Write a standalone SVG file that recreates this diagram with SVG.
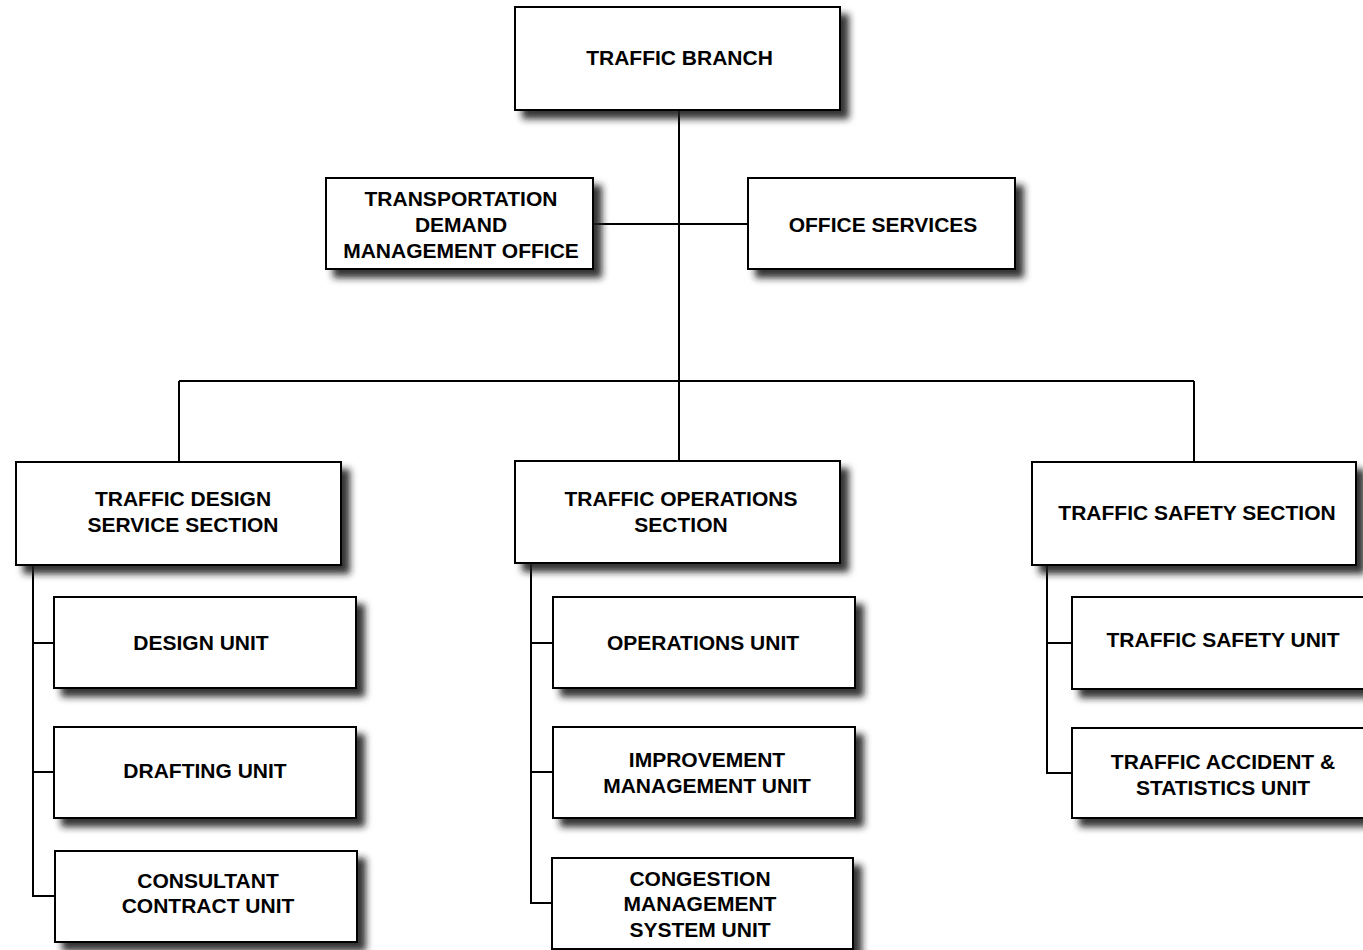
<svg xmlns="http://www.w3.org/2000/svg" width="1363" height="950" viewBox="0 0 1363 950">
<style>
.box{fill:#fff;stroke:#000;stroke-width:2;filter:url(#sh)}
.t{font-family:"Liberation Sans",Arial,sans-serif;font-weight:bold;font-size:21px;fill:#000;text-anchor:middle}
.c{fill:none;stroke:#000;stroke-width:2}
</style>
<defs>
<filter id="sh" x="-10%" y="-10%" width="130%" height="150%">
<feDropShadow dx="8" dy="8" stdDeviation="3.5" flood-color="#1a1a1a" flood-opacity="0.9"/>
</filter>
</defs>
<rect width="1363" height="950" fill="#fff"/>
<g id="connectors">
<path class="c" d="M679 110V461M593 224H748M179 381H1194M179 381V462M1194 381V462"/>
<path class="c" d="M33 565V896H55M33 643H54M33 772H54"/>
<path class="c" d="M531 563V903H552M531 643H553M531 772H553"/>
<path class="c" d="M1047 565V773H1072M1047 643H1072"/>
</g>
<g id="traffic-branch"><rect class="box" x="515" y="7" width="325" height="103"/><text class="t" x="679.5" y="64.5">TRAFFIC BRANCH</text></g>
<g id="tdm-office"><rect class="box" x="326" y="178" width="267" height="91"/><text class="t" x="461" y="205.5">TRANSPORTATION</text><text class="t" x="461" y="231.5">DEMAND</text><text class="t" x="461" y="257.5">MANAGEMENT OFFICE</text></g>
<g id="office-services"><rect class="box" x="748" y="178" width="267" height="91"/><text class="t" x="883" y="231.5">OFFICE SERVICES</text></g>
<g id="design-section"><rect class="box" x="16" y="462" width="325" height="103"/><text class="t" x="183" y="505.5">TRAFFIC DESIGN</text><text class="t" x="183" y="531.5">SERVICE SECTION</text></g>
<g id="operations-section"><rect class="box" x="515" y="461" width="325" height="102"/><text class="t" x="681" y="505.5">TRAFFIC OPERATIONS</text><text class="t" x="681" y="531.5">SECTION</text></g>
<g id="safety-section"><rect class="box" x="1032" y="462" width="324" height="103"/><text class="t" x="1197" y="519.5">TRAFFIC SAFETY SECTION</text></g>
<g id="design-unit"><rect class="box" x="54" y="597" width="302" height="91"/><text class="t" x="201" y="649.5">DESIGN UNIT</text></g>
<g id="drafting-unit"><rect class="box" x="54" y="727" width="302" height="91"/><text class="t" x="205" y="777.5">DRAFTING UNIT</text></g>
<g id="consultant-unit"><rect class="box" x="55" y="851" width="302" height="91"/><text class="t" x="208" y="887.5">CONSULTANT</text><text class="t" x="208" y="912.5">CONTRACT UNIT</text></g>
<g id="operations-unit"><rect class="box" x="553" y="597" width="302" height="91"/><text class="t" x="703" y="649.5">OPERATIONS UNIT</text></g>
<g id="improvement-unit"><rect class="box" x="553" y="727" width="302" height="91"/><text class="t" x="707" y="766.5">IMPROVEMENT</text><text class="t" x="707" y="792.5">MANAGEMENT UNIT</text></g>
<g id="congestion-unit"><rect class="box" x="552" y="858" width="301" height="91"/><text class="t" x="700" y="885.5">CONGESTION</text><text class="t" x="700" y="910.5">MANAGEMENT</text><text class="t" x="700" y="936.5">SYSTEM UNIT</text></g>
<g id="safety-unit"><rect class="box" x="1072" y="597" width="302" height="92"/><text class="t" x="1223" y="646.5">TRAFFIC SAFETY UNIT</text></g>
<g id="accident-unit"><rect class="box" x="1072" y="728" width="302" height="90"/><text class="t" x="1223" y="768.5">TRAFFIC ACCIDENT &amp;</text><text class="t" x="1223" y="794.5">STATISTICS UNIT</text></g>
</svg>
